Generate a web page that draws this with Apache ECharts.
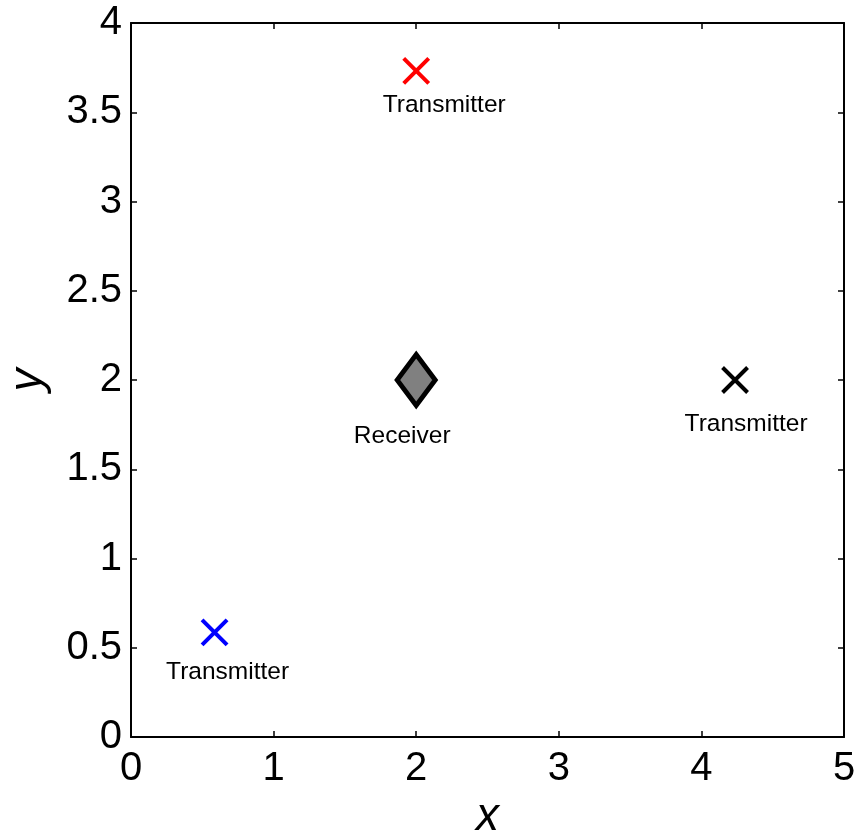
<!DOCTYPE html>
<html>
<head>
<meta charset="utf-8">
<script src="https://cdn.jsdelivr.net/npm/echarts@6/dist/echarts.min.js"></script>
<style>
  html, body { margin: 0; padding: 0; background: #fff; }
  #chart { width: 856px; height: 831px; }
</style>
</head>
<body>
<div id="chart"></div>
<script>
// Node positions (x, y) and labels
const transmitterLabel = 'Transmitter';
const receiverLabel = 'Receiver';
const redTransmitter = [[2.0, 3.732]];
const blackTransmitter = [[4.236, 2.0]];
const blueTransmitter = [[0.586, 0.586]];
const receiver = [[2.0, 2.0]];

// Axis ranges and tick steps
const xRange = [0, 5];
const xStep = 1;
const yRange = [0, 4];
const yStep = 0.5;

const FONT = '"Liberation Sans", Arial, Helvetica, sans-serif';
const CROSS = 'path://M0,0L10,10M10,0L0,10';

// Text placed under a marker, shifted by a pixel offset from its centre
function caption(text, offset) {
  return {
    show: true,
    position: 'inside',
    align: 'center',
    verticalAlign: 'middle',
    offset: offset,
    formatter: text,
    fontFamily: FONT,
    fontSize: 24.5,
    color: '#000'
  };
}

function transmitter(data, color, offset) {
  return {
    type: 'scatter',
    data: data,
    symbol: CROSS,
    symbolSize: 25,
    itemStyle: { color: 'none', borderColor: color, borderWidth: 4, opacity: 1 },
    label: caption(transmitterLabel, offset),
    emphasis: { disabled: true },
    z: 3
  };
}

const axisCommon = {
  axisLine: { show: true, onZero: false, lineStyle: { color: '#000', width: 2 } },
  axisTick: { show: true, inside: true, length: 6, lineStyle: { color: '#000', width: 1.5 } },
  splitLine: { show: false },
  axisLabel: { fontFamily: FONT, fontSize: 40, color: '#000' }
};

const chart = echarts.init(document.getElementById('chart'));
chart.setOption({
  animation: false,
  backgroundColor: '#fff',
  grid: { left: 131, top: 23, right: 12, bottom: 94, show: false, containLabel: false, outerBoundsMode: 'none' },
  xAxis: [
    Object.assign({}, axisCommon, {
      type: 'value', min: xRange[0], max: xRange[1], interval: xStep,
      position: 'bottom',
      axisLabel: Object.assign({}, axisCommon.axisLabel, { margin: 12 }),
      name: 'x', nameLocation: 'middle', nameGap: 39,
      nameTextStyle: { fontFamily: FONT, fontSize: 46, fontStyle: 'italic', color: '#000' }
    }),
    Object.assign({}, axisCommon, {
      type: 'value', min: xRange[0], max: xRange[1], interval: xStep,
      position: 'top', axisLabel: { show: false }
    })
  ],
  yAxis: [
    Object.assign({}, axisCommon, {
      type: 'value', min: yRange[0], max: yRange[1], interval: yStep,
      position: 'left',
      axisLabel: Object.assign({}, axisCommon.axisLabel, { margin: 9 }),
      name: 'y', nameLocation: 'middle', nameGap: 80, nameRotate: 90,
      nameTextStyle: { fontFamily: FONT, fontSize: 46, fontStyle: 'italic', color: '#000' }
    }),
    Object.assign({}, axisCommon, {
      type: 'value', min: yRange[0], max: yRange[1], interval: yStep,
      position: 'right', axisLabel: { show: false }
    })
  ],
  series: [
    transmitter(redTransmitter, '#ff0000', [28, 34]),
    transmitter(blackTransmitter, '#000000', [11, 44]),
    transmitter(blueTransmitter, '#0000ff', [13, 40]),
    {
      type: 'scatter',
      data: receiver,
      symbol: 'diamond',
      symbolSize: [38, 51],
      itemStyle: { color: '#808080', borderColor: '#000', borderWidth: 5, opacity: 1 },
      label: caption(receiverLabel, [-14, 56]),
      emphasis: { disabled: true },
      z: 3
    }
  ]
});
</script>
</body>
</html>
